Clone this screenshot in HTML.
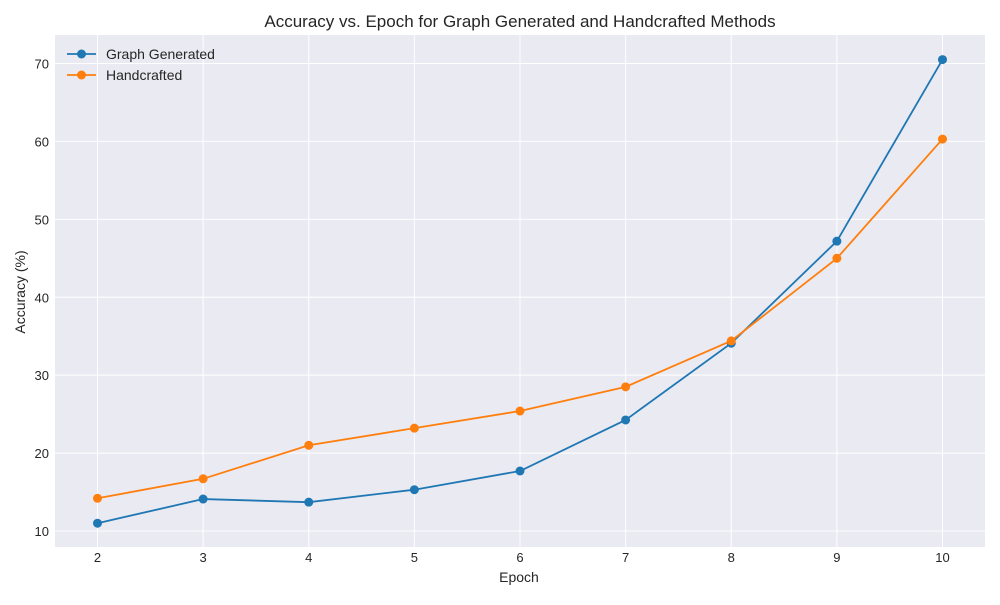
<!DOCTYPE html>
<html><head><meta charset="utf-8"><style>
body{margin:0;background:#fff;font-family:"Liberation Sans",sans-serif;}
svg text{font-family:"Liberation Sans",sans-serif;}
</style></head><body>
<svg id="chart" width="1000" height="600"></svg>
<script>
const epochs=[2,3,4,5,6,7,8,9,10];
const graphGenerated=[11.0,14.1,13.7,15.3,17.7,24.25,34.1,47.2,70.5];
const handcrafted=[14.2,16.7,21.0,23.2,25.4,28.5,34.4,45.0,60.3];
const yTicks=[10,20,30,40,50,60,70];
const seriesNames=["Graph Generated","Handcrafted"];
const colors=["#1f77b4","#ff7f0e"];
const NS="http://www.w3.org/2000/svg";
const svg=document.getElementById('chart');
const L=55,R=985,T=35,B=547;
const xS=v=>97.5+(v-2)*(942.5-97.5)/8;
const yS=v=>531-(v-10)*(531-63.5)/60;
function mk(tag,attrs,parent){const e=document.createElementNS(NS,tag);for(const k in attrs)e.setAttribute(k,attrs[k]);(parent||svg).appendChild(e);return e;}
const bg=mk('rect',{x:L,y:T,width:R-L,height:B-T,fill:'#eaeaf2'});


epochs.forEach(e=>{
  const g=mk('line',{x1:xS(e),x2:xS(e),y1:T,y2:B,stroke:'#fff','stroke-width':1});
  
  
  const t=mk('text',{x:xS(e),y:562,'text-anchor':'middle','font-size':13,fill:'#262626'});
  t.textContent=e;
  
  
});
yTicks.forEach(v=>{
  const g=mk('line',{x1:L,x2:R,y1:yS(v),y2:yS(v),stroke:'#fff','stroke-width':1});
  
  
  const t=mk('text',{x:49,y:yS(v)+5,'text-anchor':'end','font-size':13,fill:'#262626'});
  t.textContent=v;
  
  
});
[graphGenerated,handcrafted].forEach((data,i)=>{
  const pl=mk('polyline',{points:data.map((v,j)=>xS(epochs[j])+','+yS(v)).join(' '),fill:'none',stroke:colors[i],'stroke-width':1.8});
  
  
  data.forEach((v,j)=>{
    const c=mk('circle',{cx:xS(epochs[j]),cy:yS(v),r:4.5,fill:colors[i]});
    
    
  });
});
seriesNames.forEach((n,i)=>{
  const y=54+i*21;
  const g=mk('g',{});
  
  
  mk('line',{x1:67,x2:96,y1:y,y2:y,stroke:colors[i],'stroke-width':1.8},g);
  mk('circle',{cx:81.5,cy:y,r:4.5,fill:colors[i]},g);
  const t=mk('text',{x:106,y:y+5,'font-size':14,fill:'#262626'},g);
  t.textContent=n;
});
const title=mk('text',{x:520,y:27,'text-anchor':'middle','font-size':17,fill:'#262626'});
title.textContent='Accuracy vs. Epoch for Graph Generated and Handcrafted Methods';


const xt=mk('text',{x:519,y:582,'text-anchor':'middle','font-size':14,fill:'#262626'});
xt.textContent='Epoch';


const yt=mk('text',{x:25,y:292,'text-anchor':'middle','font-size':14,fill:'#262626',transform:'rotate(-90 25 292)'});
yt.textContent='Accuracy (%)';


</script>
</body></html>
